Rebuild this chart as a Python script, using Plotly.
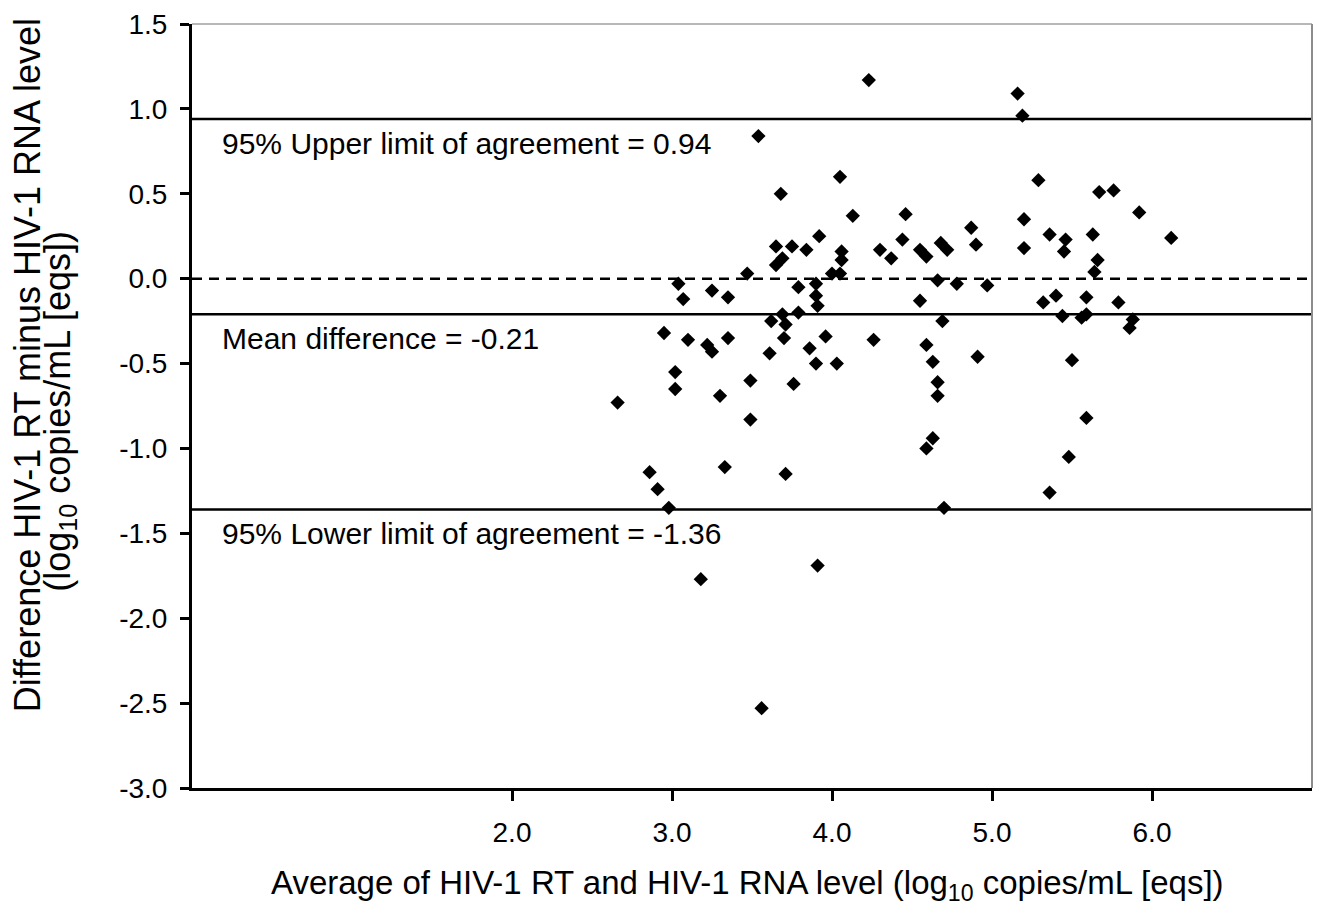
import plotly.graph_objects as go

# Bland-Altman data: average (x) vs difference (y), log10 copies/mL
avg_level = [
    4.23, 3.54, 4.05, 3.68, 4.13, 4.46, 3.65, 3.75, 3.84, 3.92,
    3.69, 3.65, 4.06, 4.06, 4.30, 4.37, 4.44, 4.55, 4.59, 4.68,
    4.72, 3.47, 4.00, 4.05, 4.66, 3.04, 3.07, 3.25, 3.35, 3.79,
    3.90, 3.90, 3.91, 4.55,
    5.16, 5.19, 5.29, 5.67, 5.76, 5.92, 6.12, 5.20, 5.20, 4.87,
    4.90, 5.36, 5.46, 5.45, 5.63, 5.66, 5.64, 4.78, 4.97, 5.32,
    5.40, 5.59, 5.79,
    3.69, 3.79, 3.62, 3.71, 4.69, 2.95, 3.10, 3.22, 3.25, 3.35,
    3.70, 3.61, 3.86, 3.96, 3.90, 4.03, 4.26, 4.59, 4.63, 4.66,
    4.66, 4.63, 4.59, 3.02, 3.02, 2.66, 3.30, 3.49, 3.49, 3.76,
    2.86, 2.91, 2.98, 3.33, 3.71, 4.70,
    5.44, 5.56, 5.59, 5.88, 5.86, 4.91, 5.50, 5.59, 5.48, 5.36,
    3.18, 3.91, 3.56,
]
diff_level = [
    1.17, 0.84, 0.60, 0.50, 0.37, 0.38, 0.19, 0.19, 0.17, 0.25,
    0.12, 0.08, 0.16, 0.11, 0.17, 0.12, 0.23, 0.17, 0.13, 0.21,
    0.17, 0.03, 0.03, 0.03, -0.01, -0.03, -0.12, -0.07, -0.11, -0.05,
    -0.03, -0.10, -0.16, -0.13,
    1.09, 0.96, 0.58, 0.51, 0.52, 0.39, 0.24, 0.35, 0.18, 0.30,
    0.20, 0.26, 0.23, 0.16, 0.26, 0.11, 0.04, -0.03, -0.04, -0.14,
    -0.10, -0.11, -0.14,
    -0.21, -0.20, -0.25, -0.27, -0.25, -0.32, -0.36, -0.39, -0.43, -0.35,
    -0.35, -0.44, -0.41, -0.34, -0.50, -0.50, -0.36, -0.39, -0.49, -0.61,
    -0.69, -0.94, -1.00, -0.55, -0.65, -0.73, -0.69, -0.60, -0.83, -0.62,
    -1.14, -1.24, -1.35, -1.11, -1.15, -1.35,
    -0.22, -0.23, -0.21, -0.24, -0.29, -0.46, -0.48, -0.82, -1.05, -1.26,
    -1.77, -1.69, -2.53,
]

upper_loa = 0.94
mean_diff = -0.21
lower_loa = -1.36
zero_line = 0.0

x_tickvals = [2, 3, 4, 5, 6]
x_ticktext = ["2.0", "3.0", "4.0", "5.0", "6.0"]
y_tickvals = [1.5, 1.0, 0.5, 0.0, -0.5, -1.0, -1.5, -2.0, -2.5, -3.0]
y_ticktext = ["1.5", "1.0", "0.5", "0.0", "-0.5", "-1.0", "-1.5", "-2.0", "-2.5", "-3.0"]

FONT = "Liberation Sans, Arial, Helvetica, sans-serif"

fig = go.Figure()

# reference lines
for val in [upper_loa, mean_diff, lower_loa]:
    fig.add_hline(y=val, line=dict(color="black", width=2.5, dash="solid"), layer="below")
fig.add_hline(y=zero_line, line=dict(color="black", width=2.5, dash="10px,7px"), layer="below")

fig.add_trace(go.Scatter(
    x=avg_level, y=diff_level, mode="markers",
    marker=dict(symbol="diamond", size=11, color="black", line=dict(width=0)),
    showlegend=False, cliponaxis=False,
))

labels = [
    (upper_loa, "95% Upper limit of agreement = 0.94"),
    (mean_diff, "Mean difference = -0.21"),
    (lower_loa, "95% Lower limit of agreement = -1.36"),
]
for val, txt in labels:
    fig.add_annotation(
        xref="paper", yref="y", x=0.025, y=val, text=txt, showarrow=False,
        xanchor="left", yanchor="middle", yshift=-24,
        font=dict(family=FONT, size=30, color="black"),
    )

# axis titles
fig.add_annotation(
    xref="paper", yref="paper", x=0.496, y=-0.1276,
    text="Average of HIV-1 RT and HIV-1 RNA level (log<sub>10</sub> copies/mL [eqs])",
    showarrow=False, xanchor="center", yanchor="middle",
    font=dict(family=FONT, size=33, color="black"),
)
fig.add_annotation(
    xref="paper", yref="paper", x=-0.1473, y=0.5534,
    text="Difference HIV-1 RT minus HIV-1 RNA level",
    showarrow=False, xanchor="center", yanchor="middle", textangle=-90,
    font=dict(family=FONT, size=36, color="black"),
)
fig.add_annotation(
    xref="paper", yref="paper", x=-0.118, y=0.4935,
    text="(log<sub>10</sub> copies/mL [eqs])",
    showarrow=False, xanchor="center", yanchor="middle", textangle=-90,
    font=dict(family=FONT, size=36, color="black"),
)

# top and right light border
fig.add_shape(type="line", xref="paper", yref="paper", x0=0, x1=1, y0=1, y1=1,
              line=dict(color="#b8b8b8", width=2))
fig.add_shape(type="line", xref="paper", yref="paper", x0=1, x1=1, y0=0, y1=1,
              line=dict(color="#8c8c8c", width=2))

fig.update_layout(
    width=1321, height=911,
    margin=dict(l=192, r=9, t=20, b=123),
    paper_bgcolor="white", plot_bgcolor="white",
    font=dict(family=FONT, size=28, color="black"),
    xaxis=dict(
        range=[0, 7], tickvals=x_tickvals, ticktext=x_ticktext,
        showgrid=False, zeroline=False, showline=True, linecolor="black", linewidth=3,
        ticks="outside", ticklen=10, tickwidth=3, tickcolor="black",
        tickfont=dict(family=FONT, size=28), ticklabelstandoff=7,
    ),
    yaxis=dict(
        range=[-3.0, 1.5], tickvals=y_tickvals, ticktext=y_ticktext,
        showgrid=False, zeroline=False, showline=True, linecolor="black", linewidth=3,
        ticks="outside", ticklen=9, tickwidth=3, tickcolor="black",
        tickfont=dict(family=FONT, size=28), ticklabelstandoff=7,
    ),
)

fig.write_html(
    "out.html",
    config={"displayModeBar": False},
    post_script="document.body.style.margin='0';document.body.style.overflow='hidden';",
)
